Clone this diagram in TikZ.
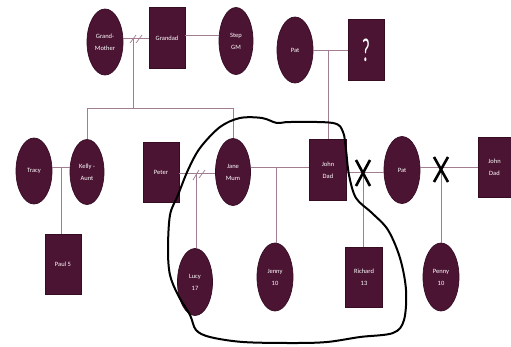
\documentclass[tikz,border=0pt]{standalone}
\usepackage{fontspec}
\setmainfont{Carlito}
\usetikzlibrary{shapes.geometric}
\definecolor{maroon}{HTML}{4C1433}
\definecolor{maroonedge}{HTML}{360C23}
\definecolor{linkc}{HTML}{A27D92}
\tikzset{
  person/.style={fill=maroon, draw=maroonedge, line width=0.7pt, text=white,
    font=\fontsize{6.5}{12}\selectfont, align=center, inner sep=0pt},
  fem/.style={person, ellipse, minimum width=36pt, minimum height=66pt},
  male/.style={person, rectangle, minimum width=36pt, minimum height=61pt},
  link/.style={draw=linkc, line width=0.8pt},
  slash/.style={draw=linkc, line width=0.7pt},
  cross/.style={draw=black, line width=2.6pt},
  loop/.style={draw=black, line width=2pt, line join=round}
}
\begin{document}
\begin{tikzpicture}[x=1pt, y=-1pt]
\useasboundingbox[fill=white] (0,0) rectangle (511,346);

% generation 1
\node[fem]  (gm)  at (105,42) {Grand-\\Mother};
\node[male] (gd)  at (167,38) {Grandad};
\node[fem, minimum width=34pt, minimum height=67pt]  (sgm) at (236,41) {Step\\GM};
\node[fem]  (pat) at (295,50) {Pat};
\node[male] (q)   at (366,50) {\scalebox{0.8}[1.5]{\fontsize{22}{22}\selectfont ?}};

% generation 2
\node[fem]  (tracy) at (34,171) {Tracy};
\node[fem, minimum width=34pt, minimum height=65pt] (kelly) at (87,172) {Kelly -\\Aunt};
\node[male, minimum height=60pt] (peter) at (161,172) {Peter};
\node[fem, minimum width=35pt, minimum height=67pt] (jane) at (233,172) {Jane\\Mum};
\node[male, minimum width=37pt] (john) at (328,170) {John\\Dad};
\node[fem, minimum height=67pt] (pat2) at (402,170) {Pat};
\node[male, minimum width=33pt, minimum height=60pt] (john2) at (494.5,167) {John\\Dad};

% generation 3
\node[male, minimum height=60pt] (paul) at (63,264) {Paul 5};
\node[fem, minimum width=35pt, minimum height=67pt] (lucy) at (195,282) {Lucy\\17};
\node[fem, minimum height=68pt] (jenny) at (275,277) {Jenny\\10};
\node[male, minimum width=37pt, minimum height=60pt] (richard) at (364,277) {Richard\\13};
\node[fem, minimum height=68pt] (penny) at (441,277) {Penny\\10};

% junction coordinates
\coordinate (gmj) at (133,38);
\coordinate (sib) at (133,108);
\coordinate (tkj) at (61,167);
\coordinate (pjj) at (196,173);
\coordinate (jjj) at (276,167);
\coordinate (jpj) at (363,172);
\coordinate (ppj) at (441,167);

% generation 1 links
\draw[link] (gd.west) -- (gd.west -| gm.east);
\draw[slash] (130,43) -- (136,35);
\draw[slash] (136,43) -- (142,35);
\draw[link] ([yshift=3pt]gd.east) -- ([yshift=3pt]gd.east -| sgm.west);
\draw[link] (gmj) -- (sib);
\draw[link] (sib -| kelly.north) -- (sib -| jane.north);
\draw[link] (sib -| kelly.north) -- (kelly.north);
\draw[link] (sib -| jane.north) -- (jane.north);
\draw[link] (pat.east) -- (q.west);
\draw[link] (john.north |- pat.east) -- (john.north);

% generation 2 links
\draw[link] (tkj -| tracy.east) -- (tkj -| kelly.west);
\draw[link] (tkj) -- (tkj |- paul.north);
\draw[link] (pjj -| peter.east) -- (pjj -| jane.west);
\draw[slash] (193,180) -- (199,170);
\draw[slash] (199,178) -- (205,170);
\draw[link] (pjj) -- (pjj |- lucy.north);
\draw[link] (jjj -| jane.east) -- (jjj -| john.west);
\draw[link] (jjj) -- (jjj |- jenny.north);
\draw[link] (jpj -| john.east) -- (jpj -| pat2.west);
\draw[link] (jpj) -- (jpj |- richard.north);
\draw[link] (ppj -| pat2.east) -- (ppj -| john2.west);
\draw[link] (ppj) -- (ppj |- penny.north);

% crosses
\draw[cross] (356,160) -- (370,186);
\draw[cross] (370,160) -- (356,186);
\draw[cross] (434,157) -- (448,182);
\draw[cross] (448,157) -- (434,182);

% hand-drawn loop
\draw[loop] plot[smooth cycle, tension=0.55] coordinates {
  (168,250) (170,215) (178,195) (188,170) (200,148) (220,127) (240,118)
  (262,118) (277,123) (290,122) (333,123) (343,132) (346,150) (349,175)
  (356,198) (372,213) (388,230) (400,258) (406,290) (404,320) (393,333)
  (360,337) (327,342) (293,343) (243,342) (210,337) (196,330) (190,315)
  (178,295) (170,275)};
\end{tikzpicture}
\end{document}
